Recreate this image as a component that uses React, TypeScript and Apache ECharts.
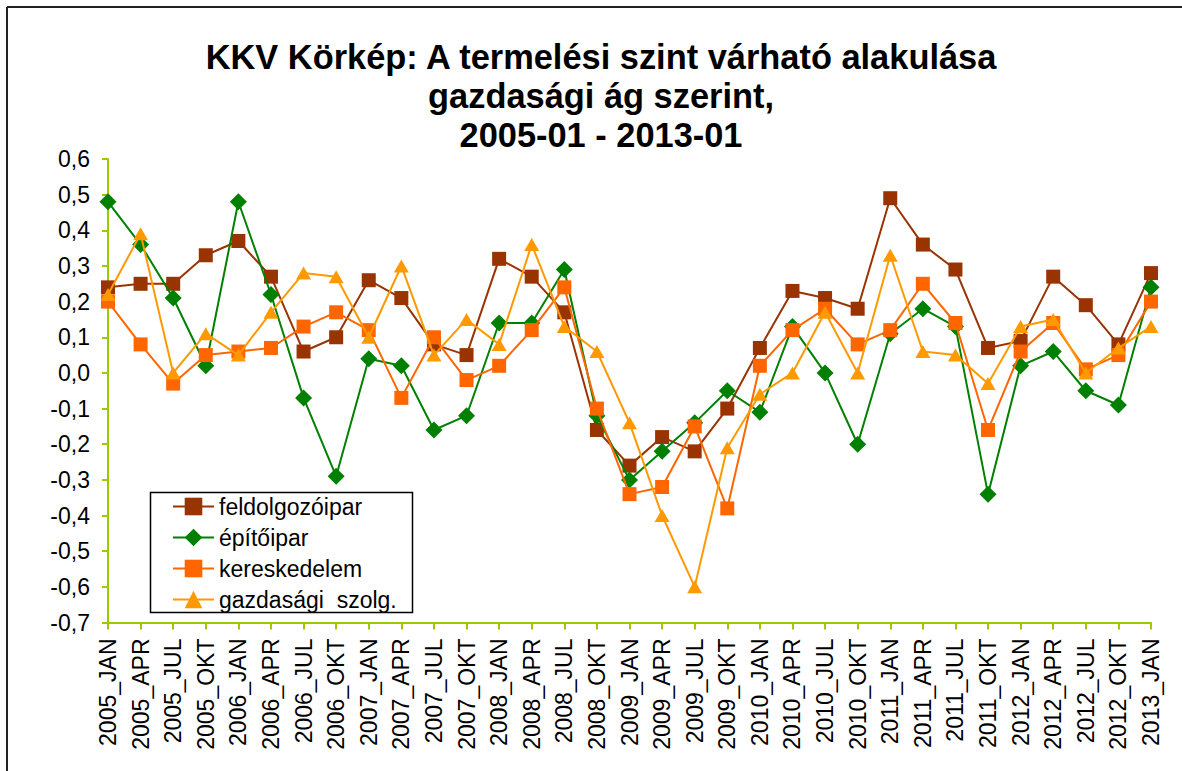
import React, { useEffect, useRef } from "react";
import * as echarts from "echarts";

const categories = [
  "2005_JAN", "2005_APR", "2005_JUL", "2005_OKT",
  "2006_JAN", "2006_APR", "2006_JUL", "2006_OKT",
  "2007_JAN", "2007_APR", "2007_JUL", "2007_OKT",
  "2008_JAN", "2008_APR", "2008_JUL", "2008_OKT",
  "2009_JAN", "2009_APR", "2009_JUL", "2009_OKT",
  "2010_JAN", "2010_APR", "2010_JUL", "2010_OKT",
  "2011_JAN", "2011_APR", "2011_JUL", "2011_OKT",
  "2012_JAN", "2012_APR", "2012_JUL", "2012_OKT",
  "2013_JAN",
];

const feldolgozoipar = [
  0.24, 0.25, 0.25, 0.33, 0.37, 0.27, 0.06, 0.10,
  0.26, 0.21, 0.08, 0.05, 0.32, 0.27, 0.17, -0.16,
  -0.26, -0.18, -0.22, -0.10, 0.07, 0.23, 0.21, 0.18,
  0.49, 0.36, 0.29, 0.07, 0.09, 0.27, 0.19, 0.08,
  0.28,
];

const epitoipar = [
  0.48, 0.36, 0.21, 0.02, 0.48, 0.22, -0.07, -0.29,
  0.04, 0.02, -0.16, -0.12, 0.14, 0.14, 0.29, -0.12,
  -0.30, -0.22, -0.14, -0.05, -0.11, 0.13, 0.00, -0.20,
  0.11, 0.18, 0.13, -0.34, 0.02, 0.06, -0.05, -0.09,
  0.24,
];

const kereskedelem = [
  0.20, 0.08, -0.03, 0.05, 0.06, 0.07, 0.13, 0.17,
  0.12, -0.07, 0.10, -0.02, 0.02, 0.12, 0.24, -0.10,
  -0.34, -0.32, -0.15, -0.38, 0.02, 0.12, 0.18, 0.08,
  0.12, 0.25, 0.14, -0.16, 0.06, 0.14, 0.01, 0.05,
  0.20,
];

const gazdasagiSzolg = [
  0.22, 0.39, 0.00, 0.11, 0.05, 0.17, 0.28, 0.27,
  0.10, 0.30, 0.05, 0.15, 0.08, 0.36, 0.13, 0.06,
  -0.14, -0.40, -0.60, -0.21, -0.06, 0.00, 0.17, 0.00,
  0.33, 0.06, 0.05, -0.03, 0.13, 0.15, 0.00, 0.07,
  0.13,
];

const seriesNames = ["feldolgozóipar", "építőipar", "kereskedelem", "gazdasági  szolg."];
const seriesColors = ["#993300", "#008000", "#FF6600", "#FF9900"];
const seriesSymbols = ["rect", "diamond", "rect", "triangle"];
const seriesSymbolSizes: (number | number[])[] = [14, 17, 14, [15, 13]];

const titleText = "KKV Körkép: A termelési szint várható alakulása\ngazdasági ág szerint,\n2005-01 - 2013-01";

const FONT = "'Liberation Sans', Arial, sans-serif";
const AXIS_COLOR = "#99CC00";

export default function App() {
  const ref = useRef<HTMLDivElement>(null);

  useEffect(() => {
    if (!ref.current) return;
    const chart = echarts.init(ref.current, null, { renderer: "svg" });
    const dataSets = [feldolgozoipar, epitoipar, kereskedelem, gazdasagiSzolg];

    chart.setOption({
      animation: false,
      backgroundColor: "#ffffff",
      textStyle: { fontFamily: FONT },
      title: {
        text: titleText,
        left: 601,
        top: 37,
        padding: 0,
        textAlign: "center",
        textStyle: {
          fontFamily: FONT,
          fontSize: 34.4,
          fontWeight: "bold",
          color: "#000000",
          lineHeight: 39,
        },
      },
      graphic: [
        {
          type: "line",
          shape: { x1: 7, y1: 7, x2: 1182, y2: 7 },
          style: { stroke: "#222222", lineWidth: 2 },
          z: 1,
        },
        {
          type: "line",
          shape: { x1: 7, y1: 7, x2: 7, y2: 771 },
          style: { stroke: "#222222", lineWidth: 2 },
          z: 1,
        },
        {
          type: "rect",
          shape: { x: 150.5, y: 492.5, width: 262, height: 120 },
          style: { fill: "#ffffff", stroke: "#000000", lineWidth: 1.5 },
          z: 50,
        },
      ],
      legend: {
        orient: "vertical",
        left: 172,
        top: 495,
        padding: 0,
        itemWidth: 41,
        itemHeight: 22,
        itemGap: 8,
        z: 60,
        textStyle: {
          fontFamily: FONT,
          fontSize: 23,
          color: "#000000",
          lineHeight: 23,
        },
        data: seriesNames,
      },
      grid: {
        left: 108,
        right: 31,
        top: 159,
        bottom: 148.5,
        containLabel: false,
      },
      xAxis: {
        type: "category",
        data: categories,
        boundaryGap: false,
        axisLine: { show: true, onZero: false, lineStyle: { color: AXIS_COLOR, width: 2 } },
        axisTick: { show: true, interval: 0, length: 7, lineStyle: { color: AXIS_COLOR, width: 2 } },
        axisLabel: {
          interval: 0,
          rotate: 90,
          margin: 16,
          fontFamily: FONT,
          fontSize: 23,
          color: "#000000",
        },
        splitLine: { show: false },
      },
      yAxis: {
        type: "value",
        min: -0.7,
        max: 0.6,
        interval: 0.1,
        axisLine: { show: true, lineStyle: { color: AXIS_COLOR, width: 2 } },
        axisTick: { show: true, length: 6, lineStyle: { color: AXIS_COLOR, width: 2 } },
        axisLabel: {
          margin: 18,
          fontFamily: FONT,
          fontSize: 23,
          color: "#000000",
          formatter: (v: number) => (Math.round(v * 10) / 10).toFixed(1).replace(".", ","),
        },
        splitLine: { show: false },
      },
      series: seriesNames.map((name, i) => ({
        name,
        type: "line",
        data: dataSets[i],
        symbol: seriesSymbols[i],
        symbolSize: seriesSymbolSizes[i],
        showAllSymbol: true,
        color: seriesColors[i],
        lineStyle: { color: seriesColors[i], width: 2 },
        itemStyle: { color: seriesColors[i] },
        z: 2 + i,
      })),
    });

    return () => chart.dispose();
  }, []);

  return (
    <div
      ref={ref}
      style={{ position: "fixed", left: 0, top: 0, width: 1182, height: 771 }}
    />
  );
}
